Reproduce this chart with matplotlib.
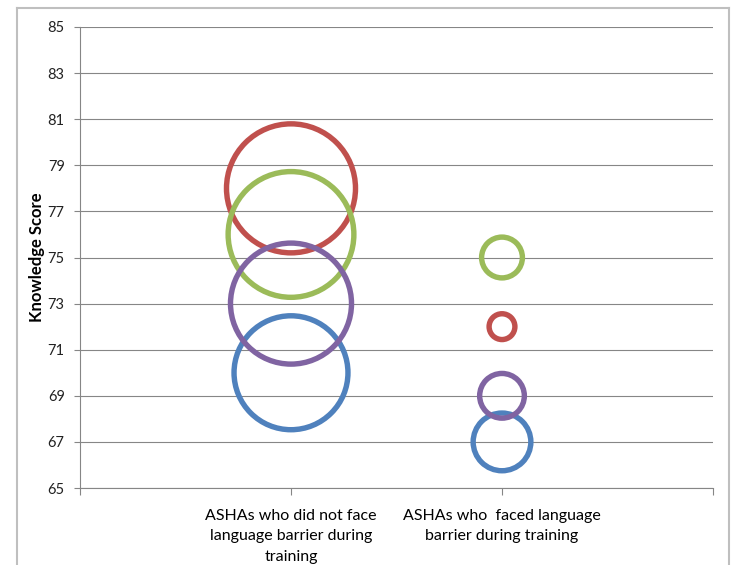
import matplotlib
matplotlib.use("Agg")
import matplotlib.pyplot as plt
from matplotlib.lines import Line2D

plt.rcParams['font.family'] = ['Lato', 'DejaVu Sans']

categories = ["ASHAs who did not face\nlanguage barrier during\ntraining",
              "ASHAs who  faced language\nbarrier during training"]
x_pos = [1, 2]
series_names = ["Blue", "Red", "Green", "Purple"]
series_y = {
    "Blue": [70, 67],
    "Red": [78, 72],
    "Green": [76, 75],
    "Purple": [73, 69],
}
series_size = {
    "Blue": [78, 20],
    "Red": [100, 4],
    "Green": [95, 10],
    "Purple": [88, 12],
}
series_color = {
    "Blue": "#4F81BD",
    "Red": "#C0504D",
    "Green": "#9BBB59",
    "Purple": "#8064A2",
}
y_ticks = list(range(65, 86, 2))

fig = plt.figure(figsize=(7.32, 5.65), dpi=100)
ax = fig.add_axes([80/732, 1-488/565, (713-80)/732, (488-27)/565])

# largest bubble: ~129 px diameter
max_size = 100
max_d_pt = 129 / (100/72)
for name in series_names:
    s = [(v / max_size) * max_d_pt**2 for v in series_size[name]]
    ax.scatter(x_pos, series_y[name], s=s, facecolors='none',
               edgecolors=series_color[name], linewidths=3.9, zorder=3)

ax.set_xlim(0, 3)
ax.set_ylim(65, 85)
ax.set_yticks(y_ticks)
ax.set_xticks([0, 1, 2, 3])
ax.set_xticklabels([""] + categories + [""], fontsize=11.5, color="#000000",
                   linespacing=1.6)
ax.tick_params(axis='y', labelsize=10.5, length=4, width=0.8, color="#868686", pad=7,
               labelcolor="#222222")
ax.tick_params(axis='x', length=5, width=0.8, color="#868686", pad=10)
ax.grid(axis='y', color="#868686", linewidth=0.8, zorder=0)
ax.set_axisbelow(True)
for sp in ['top', 'right']:
    ax.spines[sp].set_visible(False)
for sp in ['left', 'bottom']:
    ax.spines[sp].set_color("#868686")
    ax.spines[sp].set_linewidth(0.8)

ax.set_ylabel("Knowledge Score", fontsize=12, fontweight='bold', labelpad=2)

# outer chart border
bc = "#BFBFBF"
fig.add_artist(Line2D([17/732, 17/732], [0, 1-8/565], transform=fig.transFigure, color=bc, lw=1.5))
fig.add_artist(Line2D([17/732, 729/732], [1-8/565, 1-8/565], transform=fig.transFigure, color=bc, lw=1.5))
fig.add_artist(Line2D([729/732, 729/732], [0, 1-8/565], transform=fig.transFigure, color=bc, lw=1.5))

fig.savefig("out.png", dpi=100)
